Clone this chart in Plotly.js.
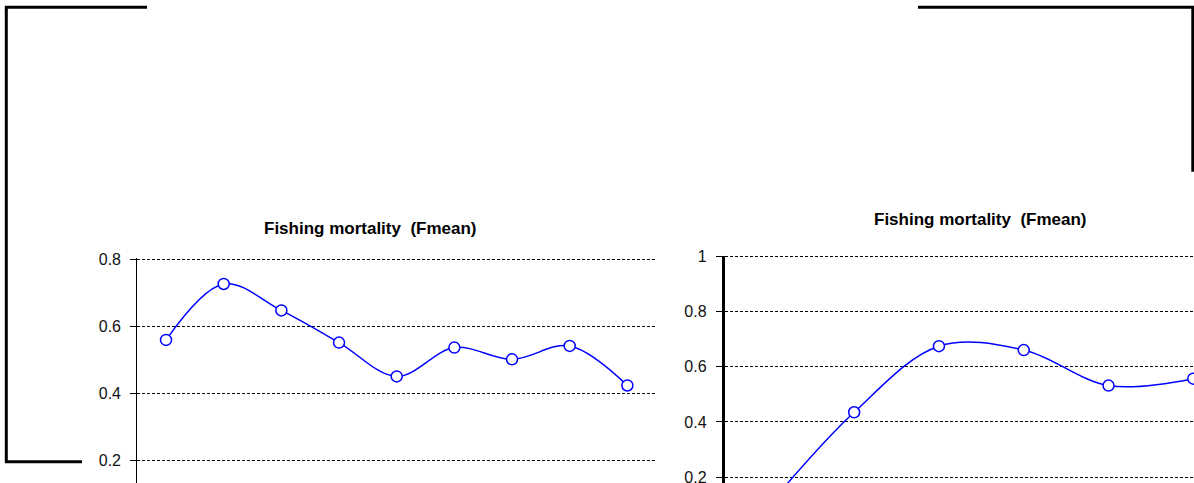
<!DOCTYPE html>
<html><head><meta charset="utf-8">
<script src="https://cdn.plot.ly/plotly-3.0.1.min.js"></script>
<style>html,body{margin:0;padding:0;background:#fff;} #chart{width:1194px;height:483px;}</style>
</head><body><div id="chart"></div>
<script>
// ---- data ----
const chartTitle = 'Fishing mortality\u00A0 (Fmean)';
const leftPeriods = [1, 2, 3, 4, 5, 6, 7, 8, 9];
const leftFmean = [0.560, 0.727, 0.648, 0.552, 0.451, 0.537, 0.502, 0.542, 0.424];
const rightPeriods = [1, 2, 3, 4, 5, 6];
const rightFmean = [0.10, 0.435, 0.675, 0.661, 0.532, 0.557];
const leftTicks = [0.2, 0.4, 0.6, 0.8];
const rightTicks = [0.2, 0.4, 0.6, 0.8, 1];

// ---- layout helpers ----
const W = 1194, H = 483;
const px = x => x / W;
const py = y => 1 - y / H;
const FONT = 'Arial, "Liberation Sans", Helvetica, sans-serif';
const BLUE = '#0000ff';

function lineTrace(x, y, xa, ya) {
  return {
    x: x, y: y, xaxis: xa, yaxis: ya, type: 'scatter', mode: 'lines+markers',
    line: {color: BLUE, width: 1.5, shape: 'spline', smoothing: 1},
    marker: {symbol: 'circle', size: 11, color: '#ffffff', line: {color: BLUE, width: 1.5}},
    hoverinfo: 'x+y', showlegend: false
  };
}

const data = [
  lineTrace(leftPeriods, leftFmean, 'x', 'y'),
  lineTrace(rightPeriods, rightFmean, 'x2', 'y2')
];

const xBase = {showgrid: false, showline: false, zeroline: false, showticklabels: false, ticks: '', fixedrange: true};
function yBase(ticks, lw) {
  return {
    tickmode: 'array', tickvals: ticks, ticktext: ticks.map(v => String(v)),
    showgrid: true, gridcolor: '#000000', gridwidth: 1, griddash: '3px,2px',
    showline: true, linecolor: '#000000', linewidth: lw, zeroline: false,
    ticks: 'outside', ticklen: 6, tickwidth: 1, tickcolor: '#000000',
    ticklabelstandoff: 6, ticklabeloverflow: 'allow',
    tickfont: {family: FONT, size: 16, color: '#111111'}, fixedrange: true
  };
}

function frame(points) {
  let d = 'M ' + points.map(p => px(p[0]) + ',' + py(p[1])).join(' L ');
  return {type: 'path', xref: 'paper', yref: 'paper', path: d, line: {color: '#000000', width: 3}, layer: 'above'};
}

const layout = {
  width: W, height: H,
  margin: {l: 0, r: 0, t: 0, b: 0, pad: 0},
  paper_bgcolor: '#ffffff', plot_bgcolor: 'rgba(0,0,0,0)',
  showlegend: false,
  xaxis: Object.assign({}, xBase, {domain: [px(137.2), px(656.2)], range: [0.5, 9.5], anchor: 'y'}),
  yaxis: Object.assign(yBase(leftTicks, 1), {domain: [0, py(257.5)], range: [0.1328, 0.806], anchor: 'x'}),
  xaxis2: Object.assign({}, xBase, {domain: [px(724.5), 1], range: [1 - 0.529, 6.008], anchor: 'y2'}),
  yaxis2: Object.assign(yBase(rightTicks, 2.5), {domain: [0, py(255.6)], range: [0.1782, 1.004], anchor: 'x2'}),
  annotations: [
    {text: '<b>' + chartTitle + '</b>', xref: 'paper', yref: 'paper', x: px(370.5), y: py(228), xanchor: 'center', yanchor: 'middle', showarrow: false, font: {family: FONT, size: 17, color: '#000000'}},
    {text: '<b>' + chartTitle + '</b>', xref: 'paper', yref: 'paper', x: px(980.8), y: py(219.5), xanchor: 'center', yanchor: 'middle', showarrow: false, font: {family: FONT, size: 17, color: '#000000'}}
  ],
  shapes: [
    frame([[147, 7.3], [6.3, 7.3], [6.3, 461.7], [82, 461.7]]),
    frame([[918, 7.3], [1192.8, 7.3], [1192.8, 171.7]])
  ]
};

Plotly.newPlot('chart', data, layout, {displayModeBar: false, staticPlot: false});
</script>
</body></html>
